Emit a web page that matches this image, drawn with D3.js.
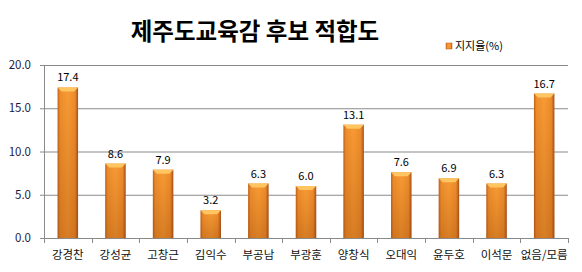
<!DOCTYPE html>
<html>
<head>
<meta charset="utf-8">
<script src="https://cdn.jsdelivr.net/npm/d3@7"></script>
<style>
body{margin:0;background:#fff;}
text{font-family:"Noto Sans CJK KR","Noto Sans",sans-serif;}
</style>
</head>
<body>
<svg id="chart" width="582" height="272"></svg>
<script>
var categories = ['강경찬','강성균','고창근','김익수','부공남','부광훈','양창식','오대익','윤두호','이석문','없음/모름'];
var values = [17.4, 8.6, 7.9, 3.2, 6.3, 6.0, 13.1, 7.6, 6.9, 6.3, 16.7];
var yTicks = [0, 5, 10, 15, 20];
var title = '제주도교육감 후보 적합도';
var seriesName = '지지율(%)';

var svg = d3.select('#chart');
var margin = {left:44, right:14, top:65, bottom:34};
var W = 582, H = 272;

var x = d3.scaleBand().domain(categories).range([margin.left, W-margin.right]).paddingInner(0.57).paddingOuter(0.285);
var y = d3.scaleLinear().domain([0,20]).range([H-margin.bottom, margin.top]);

var defs = svg.append('defs');
var grad = defs.append('linearGradient').attr('id','barGrad').attr('x1','0').attr('x2','1').attr('y1','0').attr('y2','0');
grad.append('stop').attr('offset','0').attr('stop-color','#c0601a');
grad.append('stop').attr('offset','0.12').attr('stop-color','#ee8e2c');
grad.append('stop').attr('offset','0.5').attr('stop-color','#f89b34');
grad.append('stop').attr('offset','0.85').attr('stop-color','#ee8c2c');
grad.append('stop').attr('offset','1').attr('stop-color','#a8501a');
var shade = defs.append('linearGradient').attr('id','shadeGrad').attr('x1','0').attr('x2','0').attr('y1','0').attr('y2','1');
shade.append('stop').attr('offset','0').attr('stop-color','#8a3a00').attr('stop-opacity',0);
shade.append('stop').attr('offset','1').attr('stop-color','#8a3a00').attr('stop-opacity',0.3);

// title
svg.append('text').attr('x',255).attr('y',40)
	.attr('text-anchor','middle')
	.style('font-size','23.5px').style('font-weight','bold').style('fill','#000')
	.text(title);

// gridlines
svg.append('g').selectAll('line').data(yTicks).enter().append('line')
	.attr('x1',margin.left-4).attr('x2',W-margin.right)
	.attr('y1',d=>y(d)+0.5).attr('y2',d=>y(d)+0.5)
	.style('stroke','#8a8a8a').style('stroke-width',1);

// y labels
svg.append('g').selectAll('text').data(yTicks).enter().append('text')
	.attr('x',31).attr('y',d=>y(d)+4)
	.attr('text-anchor','end')
	.style('font-size','11.5px').style('fill','#1a1a40')
	.text(d=>d3.format('.1f')(d));

// axes lines
svg.append('line').attr('x1',margin.left+0.5).attr('x2',margin.left+0.5)
	.attr('y1',y(20)).attr('y2',y(0)).style('stroke','#8a8a8a');
var xr = x.range();
var step = x.step();
svg.append('g').selectAll('line').data(d3.range(categories.length+1)).enter().append('line')
	.attr('x1',d=>Math.round(xr[0]+d*step)+0.5).attr('x2',d=>Math.round(xr[0]+d*step)+0.5)
	.attr('y1',y(0)).attr('y2',y(0)+5)
	.style('stroke','#8a8a8a');

// bars
var bars = svg.append('g').selectAll('g').data(values).enter().append('g');
bars.append('rect')
	.attr('x',(d,i)=>x(categories[i]))
	.attr('y',d=>y(d))
	.attr('width',x.bandwidth())
	.attr('height',d=>y(0)-y(d))
	.style('fill','url(#barGrad)');
bars.append('rect')
	.attr('x',(d,i)=>x(categories[i]))
	.attr('y',d=>y(d))
	.attr('width',x.bandwidth())
	.attr('height',d=>y(0)-y(d))
	.style('fill','url(#shadeGrad)');
bars.append('path')
	.attr('d',(d,i)=>{
		var x0=x(categories[i]), w=x.bandwidth(), t=y(d);
		return 'M'+x0+','+t+'L'+(x0+w)+','+t+'L'+(x0+w-4)+','+(t+4)+'L'+(x0+4)+','+(t+4)+'Z';
	})
	.style('fill','#ffc560');

// value labels
bars.append('text')
	.attr('x',(d,i)=>x(categories[i])+x.bandwidth()/2)
	.attr('y',d=>y(d)-6)
	.attr('text-anchor','middle')
	.style('font-size','11px').style('fill','#000')
	.text(d=>d3.format('.1f')(d));

// category labels
svg.append('g').selectAll('text').data(categories).enter().append('text')
	.attr('x',d=>x(d)+x.bandwidth()/2)
	.attr('y',259)
	.attr('text-anchor','middle')
	.style('font-size','11.5px').style('fill','#111')
	.text(d=>d);

// legend
svg.append('rect').attr('x',446).attr('y',43).attr('width',6).attr('height',6).style('fill','url(#barGrad)').style('stroke','#b9571a').style('stroke-width',0.5);
svg.append('text').attr('x',455).attr('y',50)
	.style('font-size','11px').style('fill','#000')
	.text(seriesName);
</script>
</body>
</html>
